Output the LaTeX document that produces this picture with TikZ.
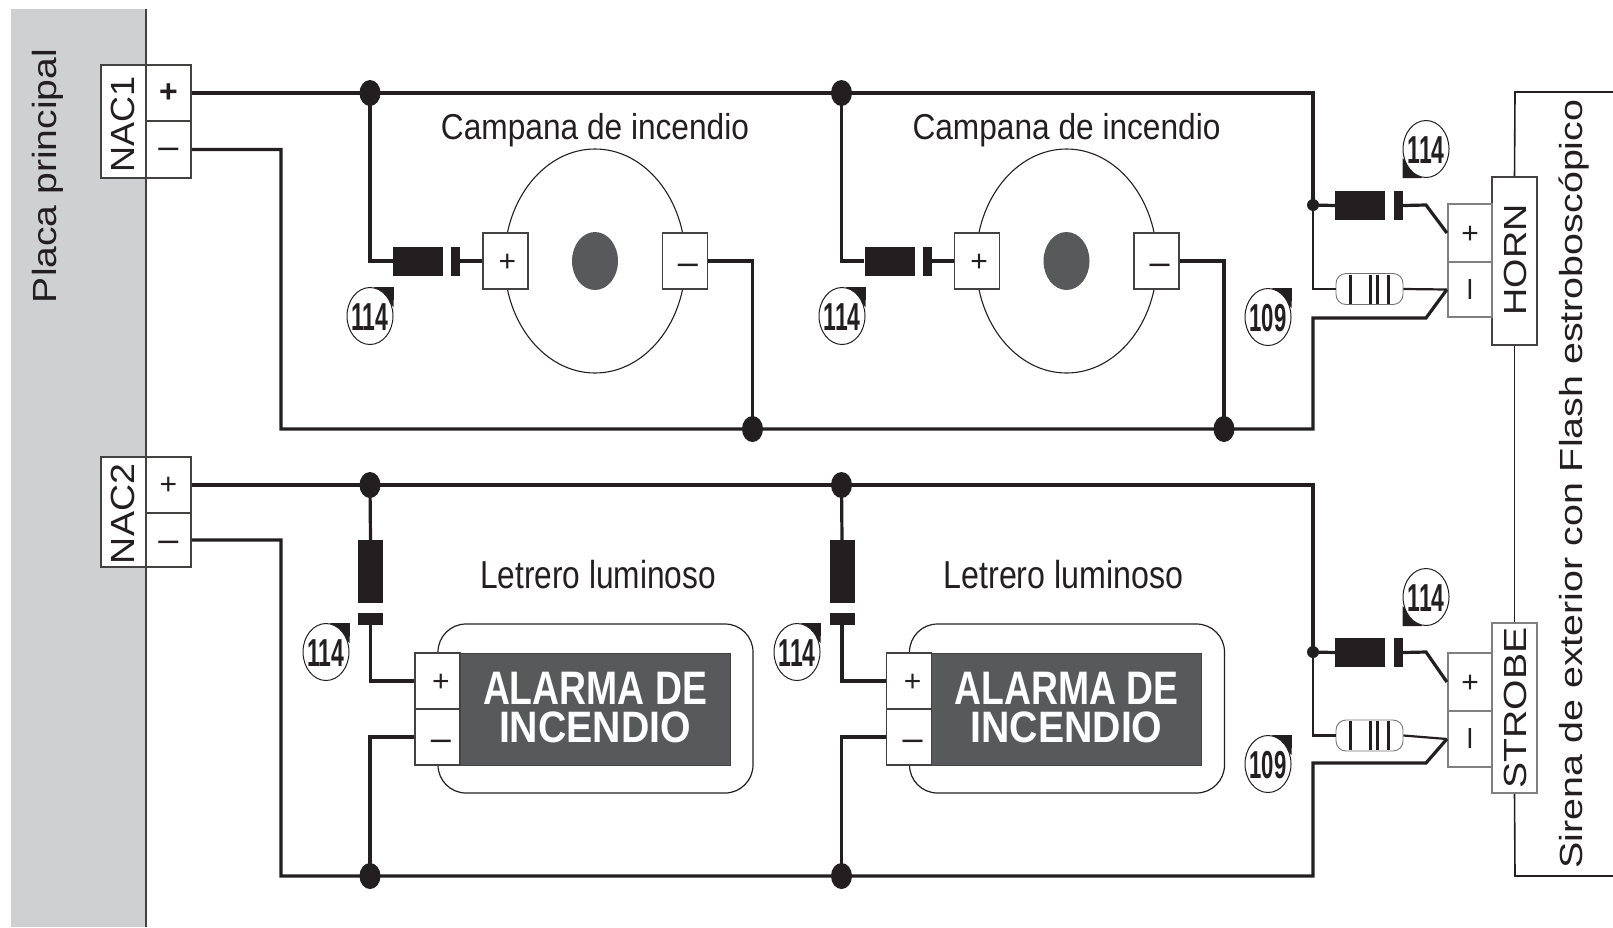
\documentclass[tikz,border=0pt]{standalone}
\usepackage{fontspec}
\usepackage{graphicx}
\setmainfont{Liberation Sans}
\usetikzlibrary{shapes.geometric}
% \fitT{font size}{width}{text}: natural height, given width
\newcommand{\fitT}[3]{\fontsize{#1pt}{#1pt}\selectfont\resizebox{#2pt}{\height}{#3}}
\definecolor{ink}{HTML}{231F20}
\definecolor{boardgray}{HTML}{CFD0D2}
\definecolor{panel}{HTML}{58595B}
\tikzset{
  wire/.style={draw=ink,line width=3.2pt,line join=miter},
  thinwire/.style={draw=ink,line width=2.2pt},
  outerwire/.style={draw=ink,line width=1.6pt},
  box/.style={draw=ink!85,line width=1.6pt,fill=white,inner sep=0pt},
  greybox/.style={draw=black!50,line width=2.2pt,fill=white,inner sep=0pt},
  txt/.style={inner sep=0pt,anchor=base,text=ink},
  sign/.style={inner sep=0pt,text=ink},
  junction/.style={ellipse,fill=ink,inner sep=0pt,minimum width=21pt,minimum height=26pt},
  smalljunction/.style={circle,fill=ink,inner sep=0pt,minimum size=12pt},
  diodebody/.style={fill=ink,inner sep=0pt},
  resistor/.style={draw=black!55,line width=.9pt,fill=white,rounded corners=10pt,inner sep=0pt,minimum width=67pt,minimum height=31pt},
  callcircle/.style={ellipse,draw=ink,line width=1pt,fill=white,inner sep=0pt,minimum width=46pt,minimum height=57pt},
}
% \callout{name}{x}{y}{text}{corner dx}{corner dy}
\newcommand{\callout}[6]{
  \fill[ink] (#2+#5*23.5,#3+#6*29) -- (#2+#5*4,#3+#6*29) -- (#2+#5*23.5,#3+#6*9) -- cycle;
  \fill[ink] (#2+#5*23.5,#3+#6*29) rectangle (#2+#5*11,#3+#6*16);
  \node[callcircle] (#1) at (#2,#3) {};
  \node[txt] at (#2,#3+14) {\fitT{39}{37}{\textbf{#4}}};
}
% \resist{name}{x}{y}
\newcommand{\resist}[3]{
  \node[resistor] (#1) at (#2,#3) {};
  \foreach \rx/\rw in {-19/2.2,1/2.2,8/2.2,19/2.2}
    \draw[ink,line width=\rw pt] (#2+\rx,#3-14.5) -- (#2+\rx,#3+14.5);
}
\begin{document}
\begin{tikzpicture}[x=1pt,y=-1pt]
\useasboundingbox (0,0) rectangle (1613,927);

% board
\fill[boardgray] (11,9) rectangle (146,927);
\draw[ink!85,line width=2pt] (146,9) -- (146,927);
\node[txt,rotate=90] at (56,176) {\fitT{33.5}{254}{Placa principal}};

% NAC terminals
\node[box,minimum width=45pt,minimum height=113pt] (nac1) at (123.5,121.5) {};
\node[box,minimum width=45pt,minimum height=56pt] (nac1p) at (168.5,93) {};
\node[box,minimum width=45pt,minimum height=57pt] (nac1m) at (168.5,149.5) {};
\node[txt,rotate=90] at (134,124) {\fitT{33.5}{96}{NAC1}};
\node[sign] at (168.5,93.5) {\fontsize{32}{32}\selectfont\textbf{+}};
\node[sign] at (168.5,153) {\fontsize{36}{36}\selectfont –};

\node[box,minimum width=45pt,minimum height=110pt] (nac2) at (123.5,512) {};
\node[box,minimum width=45pt,minimum height=56pt] (nac2p) at (168.5,485) {};
\node[box,minimum width=45pt,minimum height=54pt] (nac2m) at (168.5,540) {};
\node[txt,rotate=90] at (134,514) {\fitT{33.5}{100}{NAC2}};
\node[sign] at (168.5,486) {\fontsize{30}{30}\selectfont +};
\node[sign] at (168.5,546) {\fontsize{36}{36}\selectfont –};

% bells and signs
\foreach \i/\dx in {1/0,2/471.5}{
  % bell
  \node[ellipse,draw=ink,line width=1.1pt,fill=white,minimum width=181pt,minimum height=224pt,inner sep=0pt] (bell\i) at (595+\dx,261) {};
  \node[ellipse,fill=panel,minimum width=46pt,minimum height=58pt,inner sep=0pt] (hub\i) at (595+\dx,261) {};
  \node[box,minimum width=45pt,minimum height=56pt] (bp\i) at (505.5+\dx,261) {};
  \node[box,minimum width=45pt,minimum height=56pt] (bm\i) at (685+\dx,261) {};
  \node[sign] at (507.5+\dx,263) {\fontsize{30}{30}\selectfont +};
  \node[sign] at (688+\dx,269) {\fontsize{36}{36}\selectfont –};
  \node[txt] at (595+\dx,139.5) {\fitT{36}{308}{Campana de incendio}};
  \node[diodebody,minimum width=50pt,minimum height=29pt] (bd\i) at (418+\dx,261) {};
  \node[diodebody,minimum width=9pt,minimum height=29pt] (bb\i) at (455.5+\dx,261) {};
  \node[junction] (top\i) at (370+\dx,93) {};
  \node[junction] (gnd\i) at (752.5+\dx,429) {};
  \draw[wire] (top\i.center) |- (bd\i.west);
  \draw[wire] (bb\i.east) -- (bp\i.west);
  \draw[wire] (bm\i.east) -| (gnd\i.center);
  % illuminated sign
  \node[draw=ink,line width=1.2pt,fill=white,rounded corners=28pt,minimum width=315pt,minimum height=169pt,inner sep=0pt] (frame\i) at (595.5+\dx,708.5) {};
  \node[fill=panel,draw=ink!85,line width=1pt,minimum width=270pt,minimum height=112pt,inner sep=0pt] (panel\i) at (595+\dx,709) {};
  \node[box,minimum width=45pt,minimum height=56pt] (sp\i) at (437.5+\dx,681) {};
  \node[box,minimum width=45pt,minimum height=56pt] (sm\i) at (437.5+\dx,737) {};
  \node[sign] at (441+\dx,683) {\fontsize{30}{30}\selectfont +};
  \node[sign] at (441+\dx,745) {\fontsize{36}{36}\selectfont –};
  \node[txt,text=white] at (595+\dx,704) {\fitT{47}{224}{\textbf{ALARMA DE}}};
  \node[txt,text=white] at (595+\dx,742) {\fitT{44}{192}{\textbf{INCENDIO}}};
  \node[diodebody,minimum width=25pt,minimum height=63pt] (vd\i) at (370.5+\dx,571.5) {};
  \node[diodebody,minimum width=25pt,minimum height=12pt] (vb\i) at (370.5+\dx,619) {};
  \node[junction] (top\the\numexpr\i+2\relax) at (370+\dx,485) {};
  \node[junction] (gnd\the\numexpr\i+2\relax) at (370+\dx,876) {};
  \draw[wire] (top\the\numexpr\i+2\relax.center) -- (vd\i.north);
  \draw[wire] (vb\i.south) |- (sp\i.west);
  \draw[wire] (sm\i.west) -| (gnd\the\numexpr\i+2\relax.center);
}
\node[txt] at (598,588) {\fitT{39}{236}{Letrero luminoso}};
\node[txt] at (1063.5,588) {\fitT{39}{240}{Letrero luminoso}};

% right-hand terminals
\coordinate (outerT) at (1613,92);
\coordinate (outerTc) at (1515,92);
\coordinate (outerB) at (1613,876);
\coordinate (outerBc) at (1515,876);
\node[box,minimum width=45pt,minimum height=168pt] (horn) at (1514.5,261) {};
\node[greybox,minimum width=45pt,minimum height=170pt] (strobe) at (1514.5,708) {};
\draw[outerwire] (outerT) -- (outerTc) -- (horn.north);
\draw[outerwire] (horn.south) -- (strobe.north);
\draw[outerwire] (strobe.south) -- (outerBc) -- (outerB);
\node[greybox,minimum width=44pt,minimum height=58pt] (hp) at (1470,233) {};
\node[greybox,minimum width=44pt,minimum height=55pt] (hm) at (1470,289.5) {};
\node[greybox,minimum width=44pt,minimum height=58pt] (stp) at (1470,682) {};
\node[greybox,minimum width=44pt,minimum height=56pt] (stm) at (1470,739) {};
\node[sign] at (1470,235) {\fontsize{30}{30}\selectfont +};
\node[sign,rotate=90] at (1474,289) {\fontsize{36}{36}\selectfont –};
\node[sign] at (1470,684) {\fontsize{30}{30}\selectfont +};
\node[sign,rotate=90] at (1474,738) {\fontsize{36}{36}\selectfont –};
\node[txt,rotate=90] at (1526,260) {\fitT{32}{111}{HORN}};
\node[txt,rotate=90] at (1526,708) {\fitT{32}{161}{STROBE}};
\node[txt,rotate=90] at (1582,484) {\fitT{32}{769}{Sirena de exterior con Flash estroboscópico}};

% right-hand diodes and resistors
\node[diodebody,minimum width=50pt,minimum height=29pt] (hd) at (1360,205.5) {};
\node[diodebody,minimum width=9pt,minimum height=29pt] (hb) at (1398.5,205.5) {};
\node[diodebody,minimum width=50pt,minimum height=29pt] (sd) at (1360,652.5) {};
\node[diodebody,minimum width=9pt,minimum height=29pt] (sb) at (1398.5,652.5) {};
\resist{hr}{1369.5}{289}
\resist{sr}{1369.5}{735.5}
\node[smalljunction] (hj) at (1313,205) {};
\node[smalljunction] (sj) at (1313,652) {};
\coordinate (hpk) at (1426,205);
\coordinate (spk) at (1426,652);
\coordinate (hmk) at (1426,318);
\coordinate (smk) at (1426,763);
\coordinate (hmc) at (1313,318);
\coordinate (smc) at (1313,763);
\coordinate (c1) at (281,429);
\coordinate (c2) at (281,876);
\coordinate (r1) at (1313,93);
\coordinate (r2) at (1313,485);
\coordinate (r3) at (1313,429);
\coordinate (r4) at (1313,876);

% main wiring
\draw[wire] (nac1p.east) -- (top1.center) -- (top2.center) -- (r1) -- (hj.center);
\draw[wire] (nac1m.east) -| (c1) -- (gnd1.center) -- (gnd2.center) -- (r3) -- (hmc) -- (hmk) -- (hm.west);
\draw[wire] (nac2p.east) -- (top3.center) -- (top4.center) -- (r2) -- (sj.center);
\draw[wire] (nac2m.east) -| (c2) -- (gnd3.center) -- (gnd4.center) -- (r4) -- (smc) -- (smk) -- (stm.west);
\draw[wire] (hj.center) -- (hd.west);
\draw[wire] (sj.center) -- (sd.west);
\draw[wire] (hb.east) -- (hpk) -- (hp.west);
\draw[wire] (sb.east) -- (spk) -- (stp.west);
\draw[thinwire] (hj.center) |- (hr.west);
\draw[thinwire] (sj.center) |- (sr.west);
\draw[thinwire] (hr.east) -- (hm.west);
\draw[thinwire] (sr.east) -- (stm.west);

% reference callouts
\callout{ca}{370}{316}{114}{1}{-1}
\callout{cb}{842}{316}{114}{1}{-1}
\callout{cc}{1426}{149}{114}{-1}{1}
\callout{cd}{1268}{317}{109}{1}{-1}
\callout{ce}{326}{652}{114}{1}{-1}
\callout{cf}{797}{652}{114}{1}{-1}
\callout{cg}{1426}{597}{114}{-1}{1}
\callout{ch}{1268}{764}{109}{1}{-1}
\end{tikzpicture}
\end{document}
